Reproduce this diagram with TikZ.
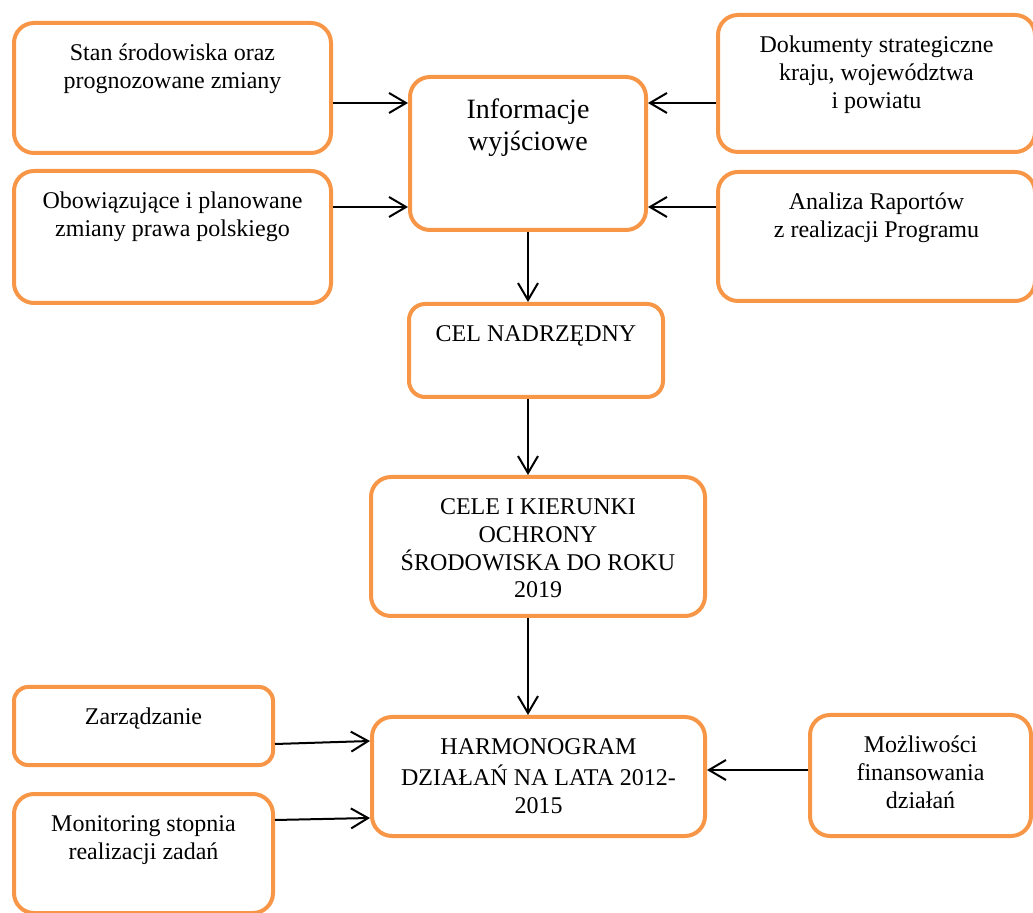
\documentclass[tikz,border=0pt]{standalone}
\usepackage{fontspec}
\setmainfont{Liberation Serif}
\usetikzlibrary{arrows.meta}
\definecolor{pomarancz}{HTML}{F79646}
% tekst u gory ramki o zadanej szerokosci i wysokosci
\newcommand{\tresc}[3]{\parbox[c][#2][t]{#1}{\centering\vspace*{9.3pt}\strut#3\par}}

\begin{document}
\begin{tikzpicture}[x=0.5pt,y=-0.5pt,
		ramka/.style={draw=pomarancz,line width=2pt,rounded corners=#1,inner sep=0pt},
		ramka/.default=10pt,
		strz/.style={-{Straight Barb[length=8.5pt,width=10pt]},line width=1pt}]
		\tikzstyle{every node}=[font=\fontsize{12}{13.8}\selectfont]
		\useasboundingbox (0,0) rectangle (1033,913);
		\clip (0,0) rectangle (1033,913);
		% wejscia
		\node[ramka] (stan) at (172.5,88) {\tresc{158.5pt}{65pt}{Stan środowiska oraz\\prognozowane zmiany}};
		\node[ramka] (prawo) at (172.5,237) {\tresc{158.5pt}{66pt}{Obowiązujące i planowane\\zmiany prawa polskiego}};
		\node[ramka] (dok) at (876.5,83.5) {\tresc{158.5pt}{68.5pt}{Dokumenty strategiczne\\kraju, województwa\\i powiatu}};
		\node[ramka] (raporty) at (876.5,236.5) {\tresc{158.5pt}{64.5pt}{Analiza Raportów\\z realizacji Programu}};
		\node[ramka,font=\fontsize{14}{16.1}\selectfont] (info) at (528,153.5) {\tresc{118pt}{76.5pt}{Informacje\\wyjściowe}};
		% cele
		\node[ramka=8pt] (cel) at (536,350.5) {\tresc{127pt}{46.5pt}{CEL NADRZĘDNY}};
		\node[ramka] (cele) at (538,546.5) {\tresc{167pt}{69.5pt}{CELE I KIERUNKI\\OCHRONY\\ŚRODOWISKA DO ROKU\\2019}};
		\node[ramka] (harm) at (538.5,776.5) {\tresc{166.5pt}{59.5pt}{HARMONOGRAM\\DZIAŁAŃ NA LATA 2012-\\2015}};
		% dolne wejscia
		\node[ramka=7pt] (zarz) at (143.5,726) {\tresc{129.5pt}{39pt}{Zarządzanie}};
		\node[ramka] (monit) at (143.5,853.5) {\tresc{129.5pt}{59.5pt}{Monitoring stopnia\\realizacji zadań}};
		\node[ramka] (finans) at (920.5,775.5) {\tresc{110.5pt}{60.5pt}{Możliwości\\finansowania\\działań}};
		% strzalki
		\draw[strz] (stan.east |- 0,103) -- (info.west |- 0,103);
		\draw[strz] (prawo.east |- 0,207) -- (info.west |- 0,207);
		\draw[strz] (dok.west |- 0,103) -- (info.east |- 0,103);
		\draw[strz] (raporty.west |- 0,207) -- (info.east |- 0,207);
		\draw[strz] (info.south) -- (info.south |- cel.north);
		\draw[strz] (cel.south -| info.south) -- (cele.north -| info.south);
		\draw[strz] (cele.south -| info.south) -- (harm.north -| info.south);
		\draw[strz] (zarz.east |- 0,744) -- (harm.west |- 0,741);
		\draw[strz] (monit.east |- 0,820) -- (harm.west |- 0,818);
		\draw[strz] (finans.west |- 0,770) -- (harm.east |- 0,770);
\end{tikzpicture}
\end{document}
